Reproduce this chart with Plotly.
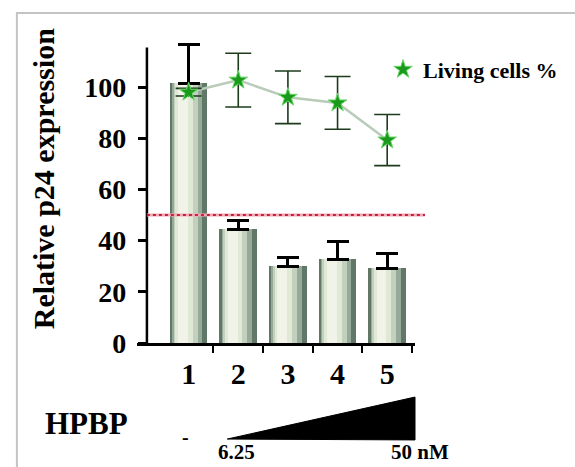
import plotly.graph_objects as go

# ---- data ----
categories = [1, 2, 3, 4, 5]
tick_labels = ["1", "2", "3", "4", "5"]
p24_values = [101.5, 44.5, 30.0, 32.8, 29.3]
p24_err_up = [15.0, 3.2, 3.6, 7.0, 5.5]
living_values = [98.0, 102.7, 96.0, 93.8, 79.3]
living_err = [1.5, 10.5, 10.3, 10.3, 10.0]
threshold = 50
y_axis_top = 115.5

FONT = "Liberation Serif"
W = 0.76  # bar width in category units

fig = go.Figure()

# layered bars to imitate the cylindrical shading
layers = [
    (-0.50, 1.00, "#617869"),
    (-0.44, 0.80, "#95aa98"),
    (-0.40, 0.64, "#c3d0bd"),
    (-0.35, 0.46, "#e0e8d6"),
    (-0.28, 0.26, "#f1f2e8"),
]
for off, frac, col in layers:
    fig.add_trace(go.Bar(
        x=categories, y=p24_values,
        width=W * frac, offset=W * off,
        marker=dict(color=col, line=dict(width=0)),
        showlegend=False, hoverinfo="skip",
    ))
fig.add_trace(go.Bar(
    x=categories, y=p24_values, width=W * 0.02, offset=-W * 0.01,
    marker=dict(color="rgba(0,0,0,0)", line=dict(width=0)),
    error_y=dict(type="data", symmetric=False, array=p24_err_up,
                 arrayminus=[0] * len(p24_err_up),
                 color="black", thickness=3, width=11),
    showlegend=False, hoverinfo="skip",
))

# living cells line (no legend) and markers
fig.add_trace(go.Scatter(
    x=categories, y=living_values, mode="lines",
    line=dict(color="#b9cbb9", width=2.5),
    showlegend=False, hoverinfo="skip",
))
fig.add_trace(go.Scatter(
    x=categories, y=living_values, mode="markers",
    name="Living cells %",
    marker=dict(symbol="star", size=14, color="#1a9a1a",
                line=dict(color="#6fd86f", width=1)),
    error_y=dict(type="data", array=living_err, color="#1d3b1d",
                 thickness=1.6, width=13),
))

fig.update_layout(
    width=575, height=467,
    margin=dict(l=137, r=158, t=41, b=124),
    paper_bgcolor="white", plot_bgcolor="white",
    barmode="overlay", bargap=0,
    font=dict(family=FONT, color="black"),
    showlegend=True,
    legend=dict(x=0.885, y=0.975, xanchor="left", yanchor="top",
                bgcolor="rgba(0,0,0,0)",
                font=dict(family=FONT, size=22, weight=700, color="black")),
    xaxis=dict(
        range=[-0.04, 5.56], tickmode="array", tickvals=categories,
        ticktext=tick_labels, ticks="", showgrid=False, zeroline=False,
        showline=True, linecolor="black", linewidth=2.5,
        tickfont=dict(family=FONT, size=30, weight=700, color="black"),
        ticklabelstandoff=2,
        minor=dict(tickmode="array", tickvals=[c + 0.5 for c in categories],
                   ticks="outside", ticklen=7, tickwidth=2, tickcolor="black"),
    ),
    yaxis=dict(
        range=[0, 118], anchor="free", position=0.0357,
        tickmode="array", tickvals=[0, 20, 40, 60, 80, 100],
        ticks="outside", ticklen=9, tickwidth=2.5, tickcolor="black",
        showgrid=False, zeroline=False, showline=False,
        tickfont=dict(family=FONT, size=28, weight=700, color="black"),
        ticklabelstandoff=6,
    ),
)

# y axis line
fig.add_shape(type="line", xref="paper", yref="y", x0=0.0357, x1=0.0357,
              y0=0, y1=y_axis_top, line=dict(color="black", width=2.5))
# 50% threshold (pink band with dotted red on top)
fig.add_shape(type="line", xref="paper", yref="y", x0=0.0357, x1=1.036,
              y0=threshold, y1=threshold, layer="above",
              line=dict(color="#f2a9b6", width=3))
fig.add_shape(type="line", xref="paper", yref="y", x0=0.0357, x1=1.036,
              y0=threshold, y1=threshold, layer="above",
              line=dict(color="#c8203f", width=2, dash="dot"))
# dose triangle
fig.add_shape(type="path", xref="paper", yref="paper",
              path="M 0.325 -0.318 L 1.0 -0.179 L 1.0 -0.321 Z",
              fillcolor="black", line=dict(color="black", width=1))
# frame
fig.add_shape(type="rect", xref="paper", yref="paper",
              x0=-0.432, x1=1.6, y0=-0.45, y1=1.093,
              line=dict(color="#c4c4c4", width=2))

ann_font = dict(family=FONT, weight=700, color="black")
def label(text, x, y, size, angle=0):
    fig.add_annotation(text=text, xref="paper", yref="paper", x=x, y=y,
                       xanchor="center", yanchor="middle", textangle=angle,
                       showarrow=False, font=dict(size=size, **ann_font))

label("Relative p24 expression", -0.335, 0.545, 30, -90)
label("HPBP", -0.182, -0.265, 31)
label("-", 0.175, -0.311, 20)
label("6.25", 0.357, -0.36, 21)
label("50 nM", 1.018, -0.36, 21)

fig.write_html("out.html", config={"displayModeBar": False},
               post_script="document.body.style.margin='0';document.body.style.overflow='hidden';")
